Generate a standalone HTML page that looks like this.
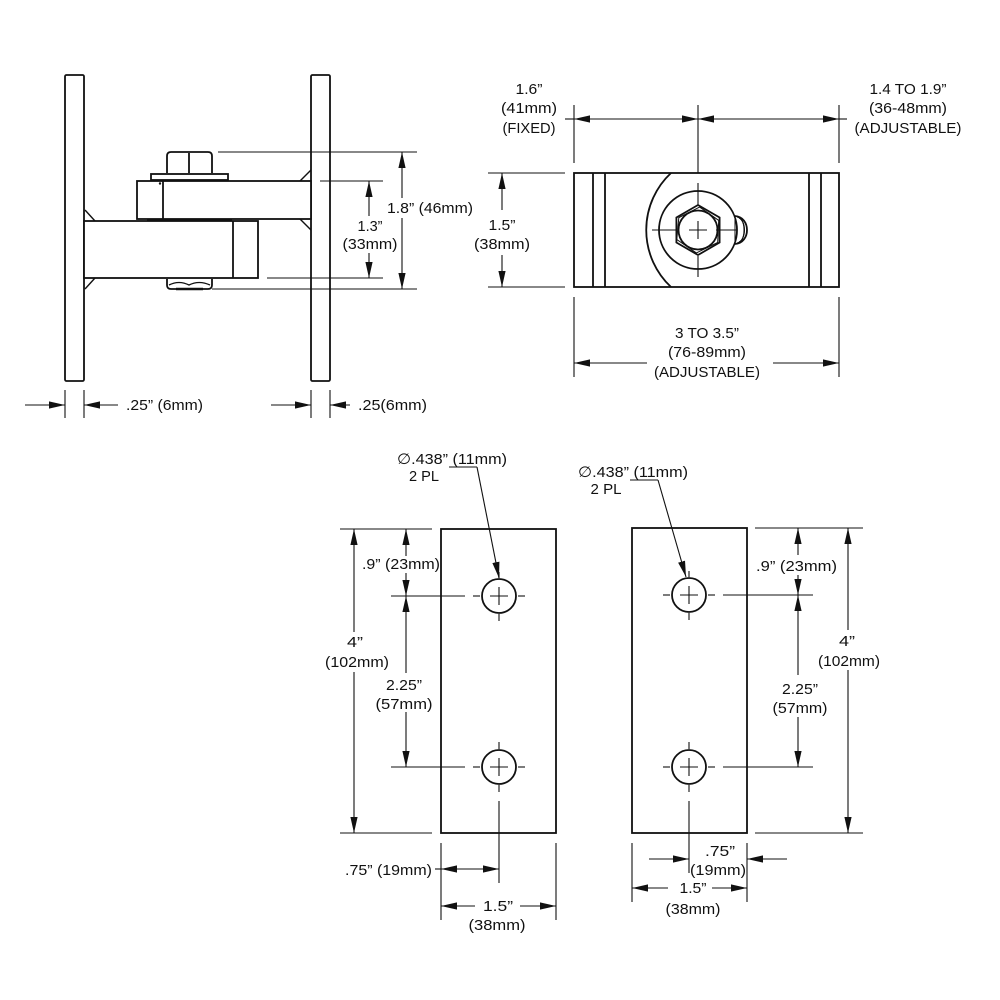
<!DOCTYPE html>
<html>
<head>
<meta charset="utf-8">
<style>
html,body{margin:0;padding:0;background:#fff;}
svg{display:block;}
text{font-family:"Liberation Sans","DejaVu Sans",sans-serif;font-size:15px;fill:#111;}
</style>
</head>
<body>
<svg width="1000" height="1000" viewBox="0 0 1000 1000" xmlns="http://www.w3.org/2000/svg">
<defs>
<marker id="a" markerUnits="userSpaceOnUse" markerWidth="16" markerHeight="8" viewBox="0 0 16 8" refX="16" refY="4" orient="auto-start-reverse">
<path d="M0,0.4 L16,4 L0,7.6 Z" fill="#111"/>
</marker>
</defs>
<rect width="1000" height="1000" fill="#fff"/>

<!-- ================= SIDE VIEW ================= -->
<g fill="none" stroke="#111" stroke-width="1.8">
  <rect x="65" y="75" width="19" height="306" rx="1.5"/>
  <rect x="311" y="75" width="19" height="306" rx="1.5"/>
  <!-- upper arm -->
  <rect x="137" y="181" width="174" height="38" fill="#fff"/>
  <line x1="163" y1="181" x2="163" y2="219"/>
  <!-- lower arm -->
  <rect x="84" y="221" width="174" height="57" fill="#fff"/>
  <line x1="233" y1="221" x2="233" y2="278"/>
  <!-- nut top -->
  <path d="M167,173 L167,156 Q167,152 171,152 L208,152 Q212,152 212,156 L212,173" />
  <line x1="189" y1="153" x2="189" y2="173"/>
  <rect x="151" y="174" width="77" height="6"/>
  <!-- bottom nut -->
  <path d="M167,279 L167,285 Q167,289 171,289 L208,289 Q212,289 212,285 L212,279"/>
  <path d="M169,285 Q179,280 189,285 Q199,280 210,285" stroke-width="1.3"/>
</g>
<g stroke="#111" stroke-width="1.4" fill="none">
  <!-- welds -->
  <line x1="300" y1="181" x2="311" y2="170"/>
  <line x1="300" y1="219" x2="311" y2="230"/>
  <line x1="85" y1="210" x2="95" y2="221"/>
  <line x1="95" y1="278" x2="85" y2="289"/>
</g>
<line x1="147" y1="220" x2="232" y2="220" stroke="#111" stroke-width="3"/>
<line x1="176" y1="289" x2="203" y2="289" stroke="#111" stroke-width="2.5"/>
<circle cx="160" cy="183.5" r="1.2" fill="#111"/>

<g stroke="#111" stroke-width="1.1" fill="none">
  <!-- extension lines -->
  <line x1="218" y1="152" x2="417" y2="152"/>
  <line x1="320" y1="181" x2="383" y2="181"/>
  <line x1="267" y1="278" x2="383" y2="278"/>
  <line x1="212" y1="289" x2="417" y2="289"/>
  <!-- 1.8 dim -->
  <line x1="402" y1="152" x2="402" y2="289" marker-start="url(#a)" marker-end="url(#a)"/>
  <!-- 1.3 dim -->
  <line x1="369" y1="216" x2="369" y2="181" marker-end="url(#a)"/>
  <line x1="369" y1="253" x2="369" y2="278" marker-end="url(#a)"/>
  <!-- bottom ext -->
  <line x1="65" y1="390" x2="65" y2="418"/>
  <line x1="84" y1="390" x2="84" y2="418"/>
  <line x1="311" y1="390" x2="311" y2="418"/>
  <line x1="330" y1="390" x2="330" y2="418"/>
  <line x1="25" y1="405" x2="65" y2="405" marker-end="url(#a)"/>
  <line x1="118" y1="405" x2="84" y2="405" marker-end="url(#a)"/>
  <line x1="271" y1="405" x2="311" y2="405" marker-end="url(#a)"/>
  <line x1="350" y1="405" x2="330" y2="405" marker-end="url(#a)"/>
</g>
<rect x="385" y="198" width="90" height="20" fill="#fff"/>
<text x="387" y="213" textLength="86" lengthAdjust="spacingAndGlyphs">1.8” (46mm)</text>
<text x="370" y="231" text-anchor="middle" textLength="25" lengthAdjust="spacingAndGlyphs">1.3”</text>
<text x="370" y="249" text-anchor="middle" textLength="55" lengthAdjust="spacingAndGlyphs">(33mm)</text>
<text x="126" y="410" textLength="77" lengthAdjust="spacingAndGlyphs">.25” (6mm)</text>
<text x="358" y="410" textLength="69" lengthAdjust="spacingAndGlyphs">.25(6mm)</text>

<!-- ================= TOP VIEW ================= -->
<g fill="none" stroke="#111" stroke-width="1.8">
  <rect x="574" y="173" width="265" height="114"/>
  <line x1="593" y1="173" x2="593" y2="287"/>
  <line x1="605" y1="173" x2="605" y2="287"/>
  <line x1="809" y1="173" x2="809" y2="287"/>
  <line x1="821" y1="173" x2="821" y2="287"/>
  <path d="M671,173 A78,78 0 0,0 671,287"/>
  <circle cx="698" cy="230" r="39"/>
  <polygon points="698,205 719.6,217.5 719.6,242.5 698,255 676.4,242.5 676.4,217.5"/>
  <circle cx="698" cy="230" r="19.5"/>
  <!-- knob -->
  <path d="M735,216 C751,217 751,243 735,244" />
</g>
<polygon points="698,207 718,219 718.5,241 698,253 677.5,241 678,219" fill="none" stroke="#111" stroke-width="1" transform="rotate(4 698 230)"/>
<g stroke="#111" stroke-width="1" fill="none">
  <path d="M737,217 C747,219 747,241 737,243"/>
  <path d="M739,218 C746,221 746,239 739,242"/>
  <path d="M741,219 C745,223 745,237 741,241"/>
  <line x1="735" y1="216" x2="735" y2="244"/>
</g>
<g stroke="#111" stroke-width="1.1" fill="none">
  <!-- centerlines -->
  <line x1="698" y1="105" x2="698" y2="173"/>
  <line x1="698" y1="183" x2="698" y2="205"/>
  <line x1="698" y1="221" x2="698" y2="239"/>
  <line x1="698" y1="256" x2="698" y2="277"/>
  <line x1="652" y1="230" x2="677" y2="230"/>
  <line x1="689" y1="230" x2="707" y2="230"/>
  <line x1="716" y1="230" x2="737" y2="230"/>
  <!-- top dim -->
  <line x1="574" y1="105" x2="574" y2="163"/>
  <line x1="839" y1="105" x2="839" y2="163"/>
  <line x1="565" y1="119" x2="574" y2="119"/>
  <line x1="839" y1="119" x2="847" y2="119"/>
  <line x1="574" y1="119" x2="698" y2="119" marker-start="url(#a)" marker-end="url(#a)"/>
  <line x1="698" y1="119" x2="839" y2="119" marker-start="url(#a)" marker-end="url(#a)"/>
  <!-- left 1.5 -->
  <line x1="488" y1="173" x2="565" y2="173"/>
  <line x1="488" y1="287" x2="565" y2="287"/>
  <line x1="502" y1="210" x2="502" y2="173" marker-end="url(#a)"/>
  <line x1="502" y1="255" x2="502" y2="287" marker-end="url(#a)"/>
  <!-- bottom -->
  <line x1="574" y1="297" x2="574" y2="377"/>
  <line x1="839" y1="297" x2="839" y2="377"/>
  <line x1="647" y1="363" x2="574" y2="363" marker-end="url(#a)"/>
  <line x1="773" y1="363" x2="839" y2="363" marker-end="url(#a)"/>
</g>
<text x="529" y="94" text-anchor="middle" textLength="27" lengthAdjust="spacingAndGlyphs">1.6”</text>
<text x="529" y="113" text-anchor="middle" textLength="56" lengthAdjust="spacingAndGlyphs">(41mm)</text>
<text x="529" y="133" text-anchor="middle" textLength="53" lengthAdjust="spacingAndGlyphs">(FIXED)</text>
<text x="908" y="94" text-anchor="middle" textLength="77" lengthAdjust="spacingAndGlyphs">1.4 TO 1.9”</text>
<text x="908" y="113" text-anchor="middle" textLength="78" lengthAdjust="spacingAndGlyphs">(36-48mm)</text>
<text x="908" y="133" text-anchor="middle" textLength="107" lengthAdjust="spacingAndGlyphs">(ADJUSTABLE)</text>
<text x="502" y="230" text-anchor="middle" textLength="27" lengthAdjust="spacingAndGlyphs">1.5”</text>
<text x="502" y="249" text-anchor="middle" textLength="56" lengthAdjust="spacingAndGlyphs">(38mm)</text>
<text x="707" y="338" text-anchor="middle" textLength="64" lengthAdjust="spacingAndGlyphs">3 TO 3.5”</text>
<text x="707" y="357" text-anchor="middle" textLength="78" lengthAdjust="spacingAndGlyphs">(76-89mm)</text>
<text x="707" y="377" text-anchor="middle" textLength="106" lengthAdjust="spacingAndGlyphs">(ADJUSTABLE)</text>

<!-- ================= LEFT PLATE ================= -->
<g fill="none" stroke="#111" stroke-width="1.8">
  <rect x="441" y="529" width="115" height="304"/>
  <circle cx="499" cy="596" r="17"/>
  <circle cx="499" cy="767" r="17"/>
</g>
<g stroke="#111" stroke-width="1.1" fill="none">
  <!-- hole 1 center marks -->
  <line x1="490" y1="596" x2="508" y2="596"/><line x1="499" y1="587" x2="499" y2="605"/>
  <line x1="473" y1="596" x2="480" y2="596"/><line x1="518" y1="596" x2="525" y2="596"/>
  <line x1="499" y1="572" x2="499" y2="578"/><line x1="499" y1="614" x2="499" y2="621"/>
  <!-- hole 2 -->
  <line x1="490" y1="767" x2="508" y2="767"/><line x1="499" y1="758" x2="499" y2="776"/>
  <line x1="473" y1="767" x2="480" y2="767"/><line x1="518" y1="767" x2="525" y2="767"/>
  <line x1="499" y1="742" x2="499" y2="749"/><line x1="499" y1="785" x2="499" y2="792"/>
  <line x1="499" y1="801" x2="499" y2="883"/>
  <!-- leader -->
  <line x1="449" y1="467" x2="477" y2="467"/>
  <line x1="477" y1="467" x2="499" y2="578" marker-end="url(#a)"/>
  <!-- ext -->
  <line x1="340" y1="529" x2="432" y2="529"/>
  <line x1="340" y1="833" x2="432" y2="833"/>
  <line x1="391" y1="596" x2="465" y2="596"/>
  <line x1="391" y1="767" x2="465" y2="767"/>
  <!-- 4 -->
  <line x1="354" y1="632" x2="354" y2="529" marker-end="url(#a)"/>
  <line x1="354" y1="672" x2="354" y2="833" marker-end="url(#a)"/>
  <!-- .9 / 2.25 -->
  <line x1="406" y1="556" x2="406" y2="529" marker-end="url(#a)"/>
  <line x1="406" y1="573" x2="406" y2="596" marker-end="url(#a)"/>
  <line x1="406" y1="673" x2="406" y2="596" marker-end="url(#a)"/>
  <line x1="406" y1="712" x2="406" y2="767" marker-end="url(#a)"/>
  <!-- bottom -->
  <line x1="441" y1="843" x2="441" y2="920"/>
  <line x1="556" y1="843" x2="556" y2="920"/>
  <line x1="435" y1="869" x2="441" y2="869"/>
  <line x1="441" y1="869" x2="499" y2="869" marker-start="url(#a)" marker-end="url(#a)"/>
  <line x1="475" y1="906" x2="441" y2="906" marker-end="url(#a)"/>
  <line x1="520" y1="906" x2="556" y2="906" marker-end="url(#a)"/>
</g>
<text x="452" y="464" text-anchor="middle" textLength="110" lengthAdjust="spacingAndGlyphs">∅.438” (11mm)</text>
<text x="424" y="481" text-anchor="middle" textLength="30" lengthAdjust="spacingAndGlyphs">2 PL</text>
<text x="362" y="569" textLength="78" lengthAdjust="spacingAndGlyphs">.9” (23mm)</text>
<text x="355" y="647" text-anchor="middle" textLength="16" lengthAdjust="spacingAndGlyphs">4”</text>
<text x="357" y="667" text-anchor="middle" textLength="64" lengthAdjust="spacingAndGlyphs">(102mm)</text>
<text x="404" y="690" text-anchor="middle" textLength="36" lengthAdjust="spacingAndGlyphs">2.25”</text>
<text x="404" y="709" text-anchor="middle" textLength="57" lengthAdjust="spacingAndGlyphs">(57mm)</text>
<text x="345" y="875" textLength="87" lengthAdjust="spacingAndGlyphs">.75” (19mm)</text>
<text x="498" y="911" text-anchor="middle" textLength="30" lengthAdjust="spacingAndGlyphs">1.5”</text>
<text x="497" y="930" text-anchor="middle" textLength="57" lengthAdjust="spacingAndGlyphs">(38mm)</text>

<!-- ================= RIGHT PLATE ================= -->
<g fill="none" stroke="#111" stroke-width="1.8">
  <rect x="632" y="528" width="115" height="305"/>
  <circle cx="689" cy="595" r="17"/>
  <circle cx="689" cy="767" r="17"/>
</g>
<g stroke="#111" stroke-width="1.1" fill="none">
  <line x1="680" y1="595" x2="698" y2="595"/><line x1="689" y1="586" x2="689" y2="604"/>
  <line x1="663" y1="595" x2="670" y2="595"/><line x1="708" y1="595" x2="715" y2="595"/>
  <line x1="689" y1="571" x2="689" y2="577"/><line x1="689" y1="613" x2="689" y2="620"/>
  <line x1="680" y1="767" x2="698" y2="767"/><line x1="689" y1="758" x2="689" y2="776"/>
  <line x1="663" y1="767" x2="670" y2="767"/><line x1="708" y1="767" x2="715" y2="767"/>
  <line x1="689" y1="742" x2="689" y2="749"/><line x1="689" y1="785" x2="689" y2="792"/>
  <line x1="689" y1="801" x2="689" y2="873"/>
  <!-- leader -->
  <line x1="630" y1="480" x2="658" y2="480"/>
  <line x1="658" y1="480" x2="686" y2="577" marker-end="url(#a)"/>
  <!-- ext -->
  <line x1="755" y1="528" x2="863" y2="528"/>
  <line x1="755" y1="833" x2="863" y2="833"/>
  <line x1="723" y1="595" x2="813" y2="595"/>
  <line x1="723" y1="767" x2="813" y2="767"/>
  <!-- .9 / 2.25 -->
  <line x1="798" y1="555" x2="798" y2="528" marker-end="url(#a)"/>
  <line x1="798" y1="575" x2="798" y2="595" marker-end="url(#a)"/>
  <line x1="798" y1="675" x2="798" y2="595" marker-end="url(#a)"/>
  <line x1="798" y1="717" x2="798" y2="767" marker-end="url(#a)"/>
  <!-- 4 -->
  <line x1="848" y1="630" x2="848" y2="528" marker-end="url(#a)"/>
  <line x1="848" y1="670" x2="848" y2="833" marker-end="url(#a)"/>
  <!-- bottom -->
  <line x1="632" y1="843" x2="632" y2="902"/>
  <line x1="747" y1="843" x2="747" y2="902"/>
  <line x1="649" y1="859" x2="689" y2="859" marker-end="url(#a)"/>
  <line x1="787" y1="859" x2="747" y2="859" marker-end="url(#a)"/>
  <line x1="668" y1="888" x2="632" y2="888" marker-end="url(#a)"/>
  <line x1="712" y1="888" x2="747" y2="888" marker-end="url(#a)"/>
</g>
<text x="633" y="477" text-anchor="middle" textLength="110" lengthAdjust="spacingAndGlyphs">∅.438” (11mm)</text>
<text x="606" y="494" text-anchor="middle" textLength="31" lengthAdjust="spacingAndGlyphs">2 PL</text>
<text x="756" y="571" textLength="81" lengthAdjust="spacingAndGlyphs">.9” (23mm)</text>
<text x="847" y="646" text-anchor="middle" textLength="16" lengthAdjust="spacingAndGlyphs">4”</text>
<text x="849" y="666" text-anchor="middle" textLength="62" lengthAdjust="spacingAndGlyphs">(102mm)</text>
<text x="800" y="694" text-anchor="middle" textLength="36" lengthAdjust="spacingAndGlyphs">2.25”</text>
<text x="800" y="713" text-anchor="middle" textLength="55" lengthAdjust="spacingAndGlyphs">(57mm)</text>
<text x="720" y="856" text-anchor="middle" textLength="30" lengthAdjust="spacingAndGlyphs">.75”</text>
<text x="718" y="875" text-anchor="middle" textLength="56" lengthAdjust="spacingAndGlyphs">(19mm)</text>
<text x="693" y="893" text-anchor="middle" textLength="27" lengthAdjust="spacingAndGlyphs">1.5”</text>
<text x="693" y="914" text-anchor="middle" textLength="55" lengthAdjust="spacingAndGlyphs">(38mm)</text>
</svg>
</body>
</html>
